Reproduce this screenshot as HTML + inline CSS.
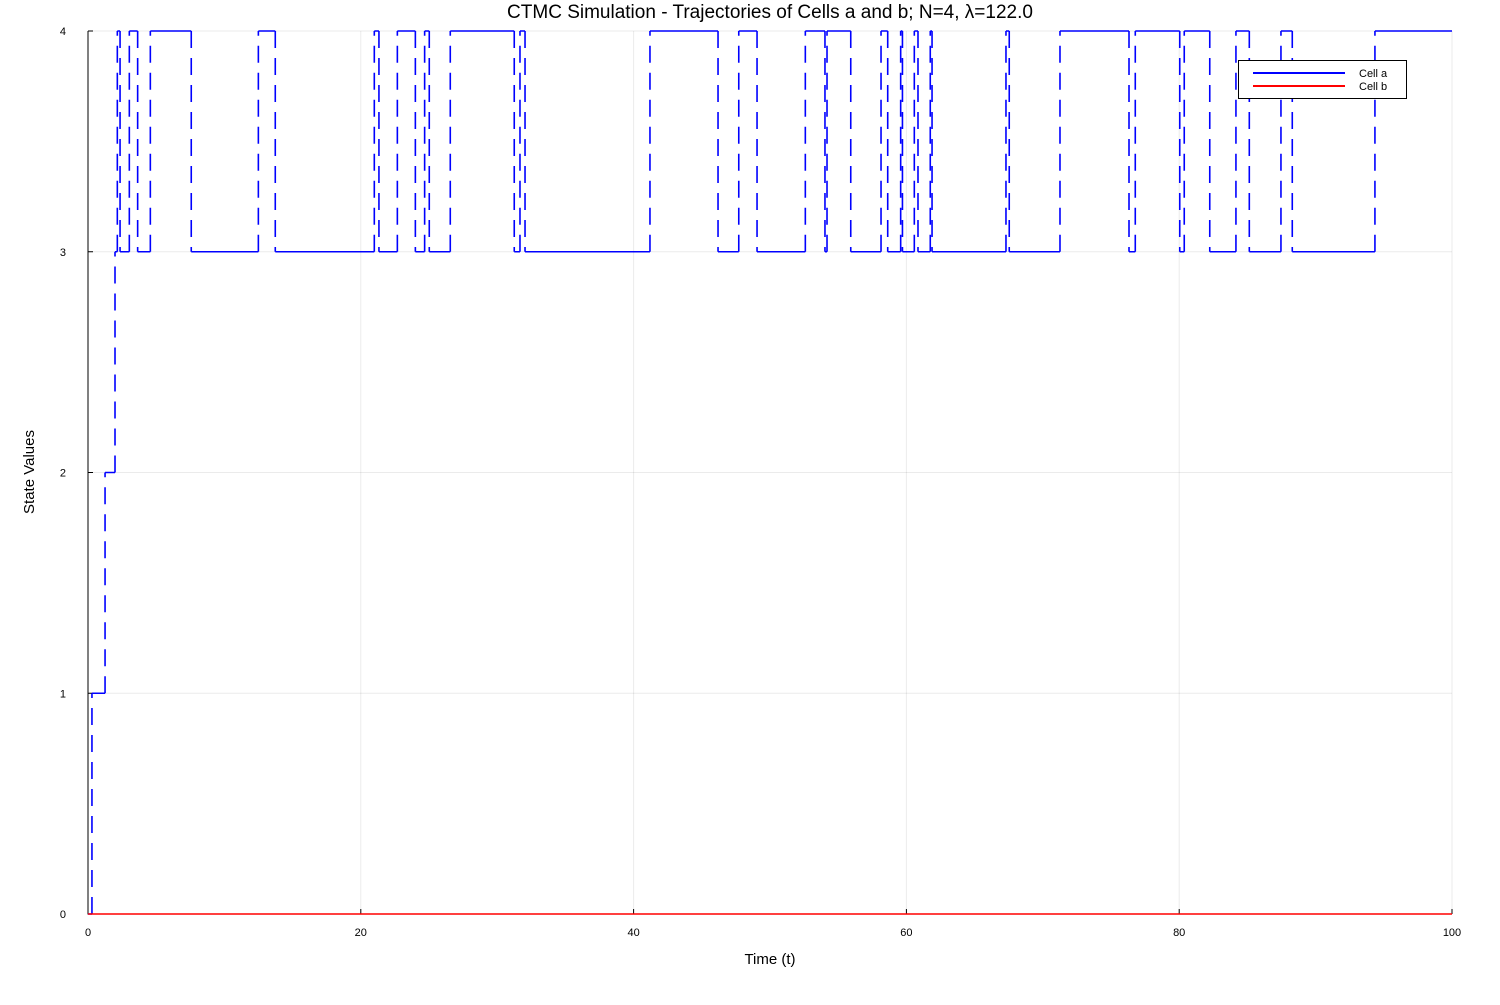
<!DOCTYPE html>
<html><head><meta charset="utf-8"><style>
body{margin:0;background:#fff;}
svg text{font-family:"Liberation Sans","DejaVu Sans",sans-serif;}
</style></head><body>
<svg id="chart" width="1500" height="1000">
<text x="770" y="18" text-anchor="middle" font-size="19">CTMC Simulation - Trajectories of Cells a and b; N=4, λ=122.0</text>
<text x="770" y="964" text-anchor="middle" font-size="15">Time (t)</text>
<text x="34" y="472" text-anchor="middle" font-size="15" transform="rotate(-90 34 472)">State Values</text>
<g id="grid"></g><g id="axes"></g><g id="series"></g>
<g>
<rect x="1238.5" y="60.5" width="168" height="38" fill="#fff" stroke="#000" stroke-width="1"/>
<line x1="1253" y1="73" x2="1345" y2="73" stroke="#0000ff" stroke-width="2"/>
<text x="1359" y="77" font-size="11">Cell a</text>
<line x1="1253" y1="86" x2="1345" y2="86" stroke="#ff0000" stroke-width="2"/>
<text x="1359" y="90" font-size="11">Cell b</text>
</g>
</svg>
<script>
const xTicks=[0,20,40,60,80,100];
const yTicks=[0,1,2,3,4];
const cellATimes=[0,0.29,1.25,1.98,2.15,2.35,3.03,3.64,4.57,7.57,12.49,13.73,20.99,21.33,22.68,24.00,24.68,25.02,26.56,31.25,31.67,32.04,41.20,46.19,47.71,49.05,52.59,54.03,54.18,55.92,58.14,58.63,59.58,59.71,60.58,60.85,61.75,61.88,67.30,67.54,71.26,76.32,76.78,80.04,80.37,82.24,84.16,85.14,87.46,88.29,94.35,100];
const cellAStates=[0,1,2,3,4,3,4,3,4,3,4,3,4,3,4,3,4,3,4,3,4,3,4,3,4,3,4,3,4,3,4,3,4,3,4,3,4,3,4,3,4,3,4,3,4,3,4,3,4,3,4,4];
const cellBTimes=[0,100];
const cellBStates=[0,0];
const X0=88,X1=1452,Y0=914,Y1=31;
const sx=t=>X0+(t-0)/(100-0)*(X1-X0);
const sy=v=>Y0-(v-0)/(4-0)*(Y0-Y1);
const NS='http://www.w3.org/2000/svg';
function mk(tag,at,parent){const e=document.createElementNS(NS,tag);for(const k in at)e.setAttribute(k,at[k]);parent.appendChild(e);return e;}
const grid=document.getElementById('grid'),axes=document.getElementById('axes'),ser=document.getElementById('series');
xTicks.forEach(t=>{
 const g=mk('line',{x1:sx(t),x2:sx(t),y1:Y1,y2:Y0,stroke:'#000','stroke-opacity':0.08,'stroke-width':1},grid);
 
 
 const tk=mk('line',{x1:sx(t),x2:sx(t),y1:Y0,y2:Y0-5,stroke:'#000'},axes);
 
 
 const tx=mk('text',{x:sx(t),y:Y0+22,'text-anchor':'middle','font-size':11},axes);
 tx.textContent=t;
 
 
});
yTicks.forEach(v=>{
 const g=mk('line',{x1:X0,x2:X1,y1:sy(v),y2:sy(v),stroke:'#000','stroke-opacity':0.08,'stroke-width':1},grid);
 
 
 const tk=mk('line',{x1:X0,x2:X0+5,y1:sy(v),y2:sy(v),stroke:'#000'},axes);
 
 
 const tx=mk('text',{x:X0-22,y:sy(v)+4,'text-anchor':'end','font-size':11},axes);
 tx.textContent=v;
 
 
});
const ax=mk('path',{d:`M${X0},${Y1}V${Y0}H${X1}`,fill:'none',stroke:'#000','stroke-width':1},axes);


function drawSeries(times,states,color,name){
 let h='',v='';
 for(let i=0;i<times.length-1;i++){
  h+=`M${sx(times[i])},${sy(states[i])}H${sx(times[i+1])}`;
  if(states[i+1]!==states[i]) v+=`M${sx(times[i+1])},${sy(states[i])}V${sy(states[i+1])}`;
 }
 const p=mk('path',{d:h,fill:'none',stroke:color,'stroke-width':1.6},ser);
 
 
 if(v){const q=mk('path',{d:v,fill:'none',stroke:color,'stroke-width':1.6,'stroke-dasharray':'17 10'},ser);
 
 }
}
drawSeries(cellATimes,cellAStates,'#0000ff','cell-a');
drawSeries(cellBTimes,cellBStates,'#ff0000','cell-b');
</script>
</body></html>
